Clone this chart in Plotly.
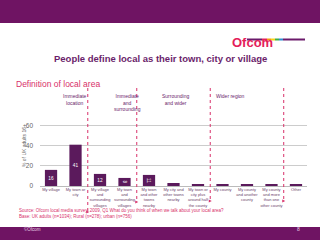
import plotly.graph_objects as go

categories = ["My village", "My town or<br>city", "My village<br>and<br>surrounding<br>villages",
              "My town<br>and<br>surrounding<br>villages", "My town<br>and other<br>towns<br>nearby",
              "My city and<br>other towns<br>nearby", "My town or<br>city plus<br>around half<br>the county",
              "My county", "My county<br>and another<br>county", "My county<br>and more<br>than one<br>other county",
              "Other"]
values = [16, 41, 12, 8, 11, 3, 1, 2, 1, 1, 1]
bar_labels = ["16", "41", "12", "8", "11", "", "", "", "", "", ""]
group_names = ["Immediate<br>location", "Immediate<br>and<br>surrounding", "Surrounding<br>and wider", "Wider region"]
group_centers = [0.4, 2.5, 5.1, 8.0]
group_bounds = [1.5, 3.5, 6.5, 9.5]
y_ticks = [0, 20, 40, 60]

PURPLE = "#5b1a5c"
PINK = "#d8306a"
FONT = "Liberation Sans"

L, R, T, B = 40, 13, 120, 54
W, H = 320, 240
PW, PH = W - L - R, H - T - B
XR = [-0.45, 10.45]

def xp(px):
    return (px - L) / PW

def yp(py):
    return (H - B - py) / PH

def xdata_to_paper(x):
    return (x - XR[0]) / (XR[1] - XR[0])

fig = go.Figure()
fig.add_trace(go.Bar(
    x=list(range(len(categories))), y=values, text=bar_labels,
    marker=dict(color=PURPLE, line=dict(width=0)), width=0.5,
    textposition="inside", insidetextanchor="middle",
    textfont=dict(family=FONT, size=5, color="white"),
    hoverinfo="skip",
))

shapes = []
# top banner
shapes.append(dict(type="rect", xref="paper", yref="paper", x0=xp(0), x1=xp(320), y0=yp(0), y1=yp(23),
                   fillcolor="#6f1463", line=dict(width=0), layer="below"))
# bottom banner
shapes.append(dict(type="rect", xref="paper", yref="paper", x0=xp(0), x1=xp(320), y0=yp(227), y1=yp(240),
                   fillcolor="#6f1463", line=dict(width=0), layer="below"))
# logo color bar
segs = [(247, 262, "#6b1a6b"), (262, 267, "#e4205a"), (267, 271, "#f39c12"), (271, 275, "#f7d21a"),
        (275, 279, "#3fae49"), (279, 283, "#2f8fd0"), (283, 305, "#6b1a6b")]
for a, b_, c in segs:
    shapes.append(dict(type="rect", xref="paper", yref="paper", x0=xp(a), x1=xp(b_), y0=yp(38.5), y1=yp(40.5),
                       fillcolor=c, line=dict(width=0)))
# dotted group separators
bottoms = [212, 202, 201, 201]
for gb, bt in zip(group_bounds, bottoms):
    xx = xdata_to_paper(gb)
    shapes.append(dict(type="line", xref="paper", yref="paper", x0=xx, x1=xx, y0=yp(88), y1=yp(bt),
                       line=dict(color=PINK, width=1, dash="dot"), layer="above"))
    px = L + xx * PW
    shapes.append(dict(type="path", xref="paper", yref="paper",
                       path=f"M {xp(px-1.5)} {yp(bt-1.5)} L {xp(px+1.5)} {yp(bt)} L {xp(px-1.5)} {yp(bt+1.5)} Z",
                       fillcolor=PINK, line=dict(width=0)))

annotations = []
annotations.append(dict(x=xp(275), y=yp(33), xref="paper", yref="paper", text="<b>Ofcom</b>", showarrow=False,
                        font=dict(family=FONT, size=13, color="#e4205a")))
annotations.append(dict(x=xp(160), y=yp(51), xref="paper", yref="paper",
                        text="<b>People define local as their town, city or village</b>", showarrow=False,
                        font=dict(family=FONT, size=9.5, color="#6b1e6b")))
annotations.append(dict(x=xp(14), y=yp(77), xref="paper", yref="paper", xanchor="left",
                        text="Definition of local area", showarrow=False,
                        font=dict(family=FONT, size=8.5, color=PINK)))
for name, gc in zip(group_names, group_centers):
    annotations.append(dict(x=xdata_to_paper(gc), y=yp(91), xref="paper", yref="paper", yanchor="top",
                            text=name, showarrow=False, align="center",
                            font=dict(family=FONT, size=5, color="#6b1e6b")))
annotations.append(dict(x=xp(19), y=yp(146), xref="paper", yref="paper", textangle=-90,
                        text="% of UK adults 16+", showarrow=False,
                        font=dict(family=FONT, size=5, color="#666666")))
annotations.append(dict(x=xp(17), y=yp(221), xref="paper", yref="paper", xanchor="left",
                        text="Source: Ofcom local media survey, 2009, Q1 What do you think of when we talk about your local area?<br>Base: UK adults (n=1034); Rural (n=278); urban (n=756)",
                        showarrow=False, align="left",
                        font=dict(family=FONT, size=4.5, color=PINK)))
annotations.append(dict(x=xp(22), y=yp(233.5), xref="paper", yref="paper", xanchor="left",
                        text="©Ofcom", showarrow=False, font=dict(family=FONT, size=4.5, color="#e8d0e6")))
annotations.append(dict(x=xp(302), y=yp(233.5), xref="paper", yref="paper",
                        text="8", showarrow=False, font=dict(family=FONT, size=5, color="#e8d0e6")))

fig.update_layout(
    width=W, height=H, margin=dict(l=L, r=R, t=T, b=B, pad=0),
    paper_bgcolor="white", plot_bgcolor="white", showlegend=False,
    bargap=0.5, shapes=shapes, annotations=annotations,
    xaxis=dict(range=XR, tickmode="array", tickvals=list(range(len(categories))), ticktext=categories,
               tickfont=dict(family=FONT, size=4, color="#6b3f6b"), showgrid=False, zeroline=False,
               showline=False, ticks="", tickangle=0, fixedrange=True),
    yaxis=dict(range=[0, 65.5], tickvals=y_ticks, showgrid=True, gridcolor="#cccccc", gridwidth=1,
               zeroline=True, zerolinecolor="#bbbbbb", zerolinewidth=1,
               tickfont=dict(family=FONT, size=6.5, color="#666666"), ticks="", ticklabelstandoff=6,
               fixedrange=True),
    uniformtext=dict(minsize=4, mode="show"),
)

fig.write_html("out.html")
